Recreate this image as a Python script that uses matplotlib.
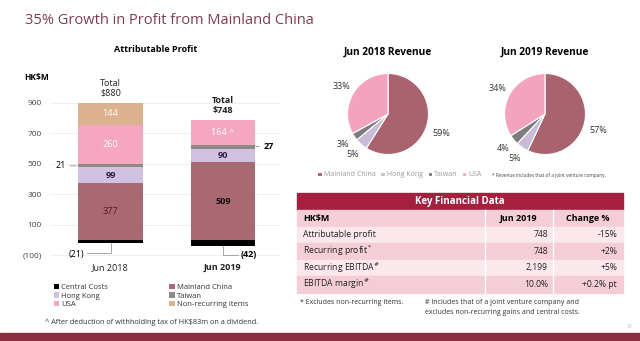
import numpy as np
import matplotlib.pyplot as plt
from matplotlib.patches import Rectangle

plt.rcParams['font.family'] = ['Open Sans', 'DejaVu Sans']
plt.rcParams['mathtext.fontset'] = 'dejavusans'

# --- data ---
periods = ['Jun 2018', 'Jun 2019']
central_costs = [-21, -42]
mainland = [377, 509]
hong_kong = [99, 90]
taiwan = [21, 27]
usa = [260, 164]
non_recurring = [144, 0]
totals = ['Total\n\\$880', 'Total\n\\$748']

yticks = [900, 700, 500, 300, 100, -100]
ytick_labels = ['900', '700', '500', '300', '100', '(100)']

pie_labels = ['Mainland China', 'Hong Kong', 'Taiwan', 'USA']
rev_2018 = [59, 5, 3, 33]
rev_2019 = [57, 5, 4, 34]

tbl_head = ['HK\\$M', 'Jun 2019', 'Change %']
tbl_rows = ['Attributable profit', 'Recurring profit$^*$', 'Recurring EBITDA$^\\#$', 'EBITDA margin$^\\#$']
tbl_jun2019 = ['748', '748', '2,199', '10.0%']
tbl_change = ['-15%', '+2%', '+5%', '+0.2% pt']

# colours
c_main = '#a86973'
c_hk = '#cfc1df'
c_tw = '#8c8a82'
c_usa = '#f5a6c1'
c_nr = '#dcb28e'
c_title = '#7e3c55'
c_red = '#a3203f'

W, H = 640, 341
fig = plt.figure(figsize=(6.4, 3.41), dpi=100)

# overlay axes in pixel coords for slide furniture
ov = fig.add_axes([0, 0, 1, 1])
ov.set_xlim(0, W)
ov.set_ylim(H, 0)
ov.axis('off')

ov.text(25, 21, '35% Growth in Profit from Mainland China', fontsize=10.5,
        color=c_title, va='center')
ov.add_patch(Rectangle((0, 333), W, 8, color='#8c2f40'))
ov.text(632, 327, '30', fontsize=3.5, color='#bbbbbb', ha='right', va='center')

# --- stacked bar chart ---
ax = fig.add_axes([50 / W, 1 - 262 / H, 230 / W, 172 / H])
ax.patch.set_alpha(0)
x = np.arange(len(periods))
wd = 0.57
h_cc = ax.bar(x, central_costs, wd, color='black', label='Central Costs', zorder=3)
bottom = np.zeros(len(periods))
handles = {}
for vals, col, lab in [(mainland, c_main, 'Mainland China'), (hong_kong, c_hk, 'Hong Kong'),
                       (taiwan, c_tw, 'Taiwan'), (usa, c_usa, 'USA'),
                       (non_recurring, c_nr, 'Non-recurring items')]:
    handles[lab] = ax.bar(x, vals, wd, bottom=bottom, color=col, label=lab, zorder=3)
    bottom += np.array(vals)

ax.set_xlim(-0.538, 1.507)
ax.set_ylim(-144, 984)
ax.set_yticks(yticks)
ax.set_yticklabels(ytick_labels)
ax.set_xticks(x)
ax.set_xticklabels(periods)
ax.get_xticklabels()[1].set_fontweight('bold')
ax.tick_params(axis='y', length=0, pad=6, labelsize=6, labelcolor='#444444')
ax.tick_params(axis='x', length=0, pad=1, labelsize=6.5, labelcolor='#222222')
ax.grid(axis='y', color='#ececec', lw=0.6, zorder=0)
for s in ax.spines.values():
    s.set_visible(False)

# segment labels
def seg_mid(i, k):
    stack = [mainland, hong_kong, taiwan, usa, non_recurring]
    return sum(s[i] for s in stack[:k]) + stack[k][i] / 2

ax.text(0, seg_mid(0, 0), '377', ha='center', va='center', fontsize=6.6, color='#5a1c2c', zorder=4)
ax.text(0, seg_mid(0, 1), '99', ha='center', va='center', fontsize=6.6, color='#3b1d4d',
        fontweight='bold', zorder=4)
ax.text(0, seg_mid(0, 3), '260', ha='center', va='center', fontsize=6.6, color='white', zorder=4)
ax.text(0, seg_mid(0, 4), '144', ha='center', va='center', fontsize=6.6, color='white', zorder=4)
ax.text(1, seg_mid(1, 0), '509', ha='center', va='center', fontsize=6.6, color='#1a0a0e',
        fontweight='bold', zorder=4)
ax.text(1, seg_mid(1, 1), '90', ha='center', va='center', fontsize=6.6, color='#3b1d4d',
        fontweight='bold', zorder=4)
ax.text(1, seg_mid(1, 3), '164 ^', ha='center', va='center', fontsize=6.6, color='white', zorder=4)

# totals
for i, t in enumerate(totals):
    ax.annotate(t, (x[i], bottom[i]), xytext=(0, 3.5), textcoords='offset points',
                ha='center', va='bottom', fontsize=6.5, linespacing=1.05,
                fontweight='bold' if i == 1 else 'normal', color='#222222')

# Taiwan call-outs
ax.annotate(str(taiwan[0]), (x[0] - wd / 2, seg_mid(0, 2)), xytext=(-9, 0),
            textcoords='offset points', ha='right', va='center', fontsize=6.5,
            arrowprops=dict(arrowstyle='-', color='#888888', lw=0.6, shrinkA=1, shrinkB=1.5))
ax.annotate(str(taiwan[1]), (x[1] + wd / 2, seg_mid(1, 2)), xytext=(6, 0),
            textcoords='offset points', ha='left', va='center', fontsize=6.5, fontweight='bold',
            arrowprops=dict(arrowstyle='-', color='#888888', lw=0.6, shrinkA=1, shrinkB=0.5))

# central cost call-outs
ax.plot([x[0], x[0], x[0] - 0.21], [central_costs[0], -82, -82], color='#999999', lw=0.6, zorder=2)
ax.text(x[0] - 0.23, -94, '(%d)' % -central_costs[0], ha='right', va='center', fontsize=6.5)
ax.plot([x[1], x[1], x[1] + 0.13], [central_costs[1], -98, -98], color='#999999', lw=0.6, zorder=2)
ax.text(x[1] + 0.16, -98, '(%d)' % -central_costs[1], ha='left', va='center', fontsize=6.5,
        fontweight='bold')

ov.text(37, 77, 'HK\\$M', fontsize=6, fontweight='bold', ha='center', va='center')
ov.text(156, 50, 'Attributable Profit', fontsize=6.5, fontweight='bold', ha='center', va='center')

leg_order = [h_cc, handles['Hong Kong'], handles['USA'], handles['Mainland China'],
             handles['Taiwan'], handles['Non-recurring items']]
fig.legend(leg_order, [h.get_label() for h in leg_order], ncol=2, frameon=False,
           loc='upper left', bbox_to_anchor=(50 / W, 1 - 280 / H), fontsize=5.5,
           handlelength=0.7, handleheight=0.7, handletextpad=0.3, columnspacing=8.0,
           labelspacing=0.15, borderpad=0, labelcolor='#333333')
ov.text(152, 322, '^ After deduction of withholding tax of HK\\$83m on a dividend.',
        fontsize=5.3, ha='center', va='center', color='#333333')

# --- pies ---
pie_colors = ['#a8636f', '#c9bcd9', '#7d7d7d', '#f4a3bf']
pie_r = 40.5
wedges = None
for vals, title, cx in [(rev_2018, 'Jun 2018 Revenue', 388), (rev_2019, 'Jun 2019 Revenue', 545)]:
    cy = 114
    pax = fig.add_axes([(cx - pie_r) / W, 1 - (cy + pie_r) / H, 2 * pie_r / W, 2 * pie_r / H])
    wedges, _, autot = pax.pie(vals, colors=pie_colors, startangle=90, counterclock=False,
                               autopct=lambda p: f'{p:.0f}%', pctdistance=1.33,
                               wedgeprops=dict(edgecolor='white', linewidth=0.8))
    for t in autot:
        t.set_fontsize(6.5)
        t.set_color('#333333')
    # main slice label sits a little lower in the original
    px_, py_ = autot[0].get_position()
    autot[0].set_position((px_ + 0.03, py_ - 0.12))
    pax.set_xlim(-1, 1)
    pax.set_ylim(-1, 1)
    ov.text(cx, 52, title, fontsize=7.3, fontweight='bold', ha='center', va='center')

fig.legend(wedges, pie_labels, ncol=4, frameon=False, loc='center left',
           bbox_to_anchor=(314 / W, 1 - 175 / H), fontsize=5, handlelength=0.6,
           handleheight=0.6, handletextpad=0.3, columnspacing=0.7, borderpad=0,
           labelcolor='#999999')
ov.text(492, 175, '* Revenue includes that of a joint venture company.', fontsize=3.4,
        ha='left', va='center', color='#444444')

# --- key financial data table ---
tx0, tx1 = 297, 623
ov.add_patch(Rectangle((tx0, 193), tx1 - tx0, 17, color=c_red))
ov.text((tx0 + tx1) / 2, 201.5, 'Key Financial Data', color='white', fontsize=7,
        fontweight='bold', ha='center', va='center')
row_h = 16.5
rows = [tbl_head] + [[a, b, c] for a, b, c in zip(tbl_rows, tbl_jun2019, tbl_change)]
for r, (lab, v1, v2) in enumerate(rows):
    y0 = 210 + r * row_h
    ov.add_patch(Rectangle((tx0, y0), tx1 - tx0, row_h,
                           color='#f5cdd6' if r % 2 == 0 else '#fbe8ec'))
    yc = y0 + row_h / 2
    if r == 0:
        ov.text(303, yc, lab, fontsize=6.5, fontweight='bold', va='center')
        ov.text(518, yc, v1, fontsize=6.5, fontweight='bold', va='center', ha='center')
        ov.text(588, yc, v2, fontsize=6.5, fontweight='bold', va='center', ha='center')
    else:
        ov.text(303, yc, lab, fontsize=6.2, va='center', color='#222222')
        ov.text(548, yc, v1, fontsize=6.2, va='center', ha='right', color='#222222')
        ov.text(617, yc, v2, fontsize=6.2, va='center', ha='right', color='#222222')
for xs in [485, 553]:
    ov.plot([xs, xs], [210, 210 + len(rows) * row_h], color='white', lw=1)

ov.text(300, 302, '* Excludes non-recurring items.', fontsize=5, va='center', color='#333333')
ov.text(425, 302, '# Includes that of a joint venture company and', fontsize=5,
        va='center', color='#333333')
ov.text(425, 313, 'excludes non-recurring gains and central costs.', fontsize=5,
        va='center', color='#333333')

fig.savefig('out.png', dpi=100)
